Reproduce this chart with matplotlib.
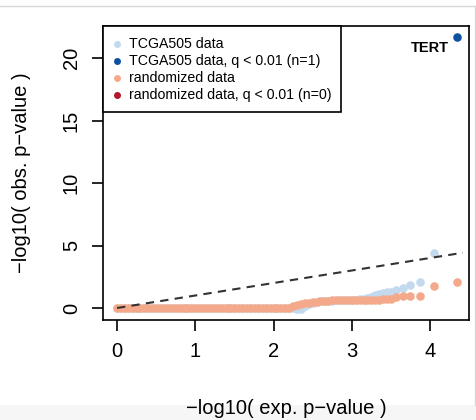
import matplotlib
matplotlib.use("Agg")
import matplotlib.pyplot as plt
from matplotlib.patches import Rectangle
from matplotlib.lines import Line2D

plt.rcParams['font.family'] = ['Liberation Sans', 'DejaVu Sans']

# ---- data ----
# expected -log10(p) positions of the dense part of the QQ curve
exp_dense = [0.00, 0.05, 0.10, 0.15, 0.20, 0.25, 0.30, 0.35, 0.40, 0.45,
             0.50, 0.55, 0.60, 0.65, 0.70, 0.75, 0.80, 0.85, 0.90, 0.95,
             1.00, 1.05, 1.10, 1.15, 1.20, 1.25, 1.30, 1.35, 1.40, 1.45,
             1.50, 1.55, 1.60, 1.65, 1.70, 1.75, 1.80, 1.85, 1.90, 1.95,
             2.00, 2.05, 2.10, 2.15, 2.20, 2.25, 2.30, 2.35, 2.40, 2.45,
             2.50, 2.55, 2.60, 2.65, 2.70, 2.75, 2.80, 2.85, 2.90, 2.95,
             3.00, 3.05, 3.10, 3.15, 3.20, 3.25, 3.30, 3.35, 3.40, 3.45,
             3.50]
# randomized data (observed -log10 p), dense part
rand_dense = [0.00, 0.00, 0.00, 0.00, 0.00, 0.00, 0.00, 0.00, 0.00, 0.00,
              0.00, 0.00, 0.00, 0.00, 0.00, 0.00, 0.00, 0.00, 0.00, 0.00,
              0.00, 0.00, 0.00, 0.00, 0.00, 0.00, 0.00, 0.00, 0.00, 0.00,
              0.00, 0.00, 0.00, 0.00, 0.00, 0.00, 0.00, 0.00, 0.00, 0.00,
              0.00, 0.00, 0.00, 0.00, 0.02, 0.15, 0.25, 0.33, 0.40, 0.42,
              0.45, 0.50, 0.55, 0.58, 0.60, 0.61, 0.62, 0.62, 0.63, 0.63,
              0.64, 0.64, 0.65, 0.65, 0.66, 0.66, 0.67, 0.68, 0.69, 0.70,
              0.72]
# TCGA505 data (observed -log10 p), dense part
tcga_dense = [0.00, 0.00, 0.00, 0.00, 0.00, 0.00, 0.00, 0.00, 0.00, 0.00,
              0.00, 0.00, 0.00, 0.00, 0.00, 0.00, 0.00, 0.00, 0.00, 0.00,
              0.00, 0.00, 0.00, 0.00, 0.00, 0.00, 0.00, 0.00, 0.00, 0.00,
              0.00, 0.00, 0.00, 0.00, 0.00, 0.00, 0.00, 0.00, 0.00, 0.00,
              0.00, 0.00, 0.00, 0.00, 0.00, -0.03, -0.06, -0.04, 0.20, 0.35,
              0.42, 0.48, 0.53, 0.56, 0.58, 0.60, 0.61, 0.62, 0.63, 0.64,
              0.66, 0.68, 0.70, 0.74, 0.80, 0.90, 1.02, 1.10, 1.20, 1.25,
              1.30]
# top-ranked points
exp_top = [3.57, 3.65, 3.75, 3.87, 4.05, 4.35]
rand_top = [0.85, 0.96, 0.96, 0.96, 1.78, 2.05]
tcga_top = [1.44, 1.62, 1.82, 2.05, 4.42]
exp_tcga_top = [3.57, 3.65, 3.75, 3.87, 4.05]
# significant hit
sig_exp = [4.35]
sig_obs = [21.7]
sig_gene = ["TERT"]

LIGHT_BLUE = "#c2d9ee"
DARK_BLUE = "#0d52a0"
ORANGE = "#f4aa8a"
DARK_RED = "#b2182b"

fig = plt.figure(figsize=(4.77, 4.20), dpi=100)
ax = fig.add_axes([103/477, 1-320/420, 366/477, 294/420])

s = 38
ax.scatter(exp_dense + exp_tcga_top, tcga_dense + tcga_top, s=s, c=LIGHT_BLUE,
           linewidths=0, zorder=2)
ax.scatter(sig_exp, sig_obs, s=s, c=DARK_BLUE, linewidths=0, zorder=2)
ax.scatter(exp_dense + exp_top, rand_dense + rand_top, s=s, c=ORANGE,
           linewidths=0, zorder=3)

ax.plot([0, 4.42], [0, 4.42], ls=(0, (4, 3)), color="#333333", lw=1.5, zorder=4)

for xg, yg, g in zip(sig_exp, sig_obs, sig_gene):
    ax.annotate(g, (xg, yg), xytext=(-6, -8), textcoords="offset points",
                ha="right", va="center", fontsize=10.5, fontweight="bold")

ax.set_xlim(-0.179, 4.498)
ax.set_ylim(-0.96, 22.56)
ax.set_xticks([0, 1, 2, 3, 4])
ax.set_yticks([0, 5, 10, 15, 20])
ax.tick_params(axis="both", length=8, width=1.2, labelsize=14.5, direction="out")
ax.tick_params(axis="x", pad=8)
ax.tick_params(axis="y", pad=8)
for lab in ax.get_yticklabels():
    lab.set_rotation(90)
    lab.set_va("center")
for sp in ax.spines.values():
    sp.set_linewidth(1.2)

ax.set_xlabel("\u2212log10( exp. p\u2212value )", fontsize=14.5)
ax.set_ylabel("\u2212log10( obs. p\u2212value )", fontsize=14.5)
ax.xaxis.set_label_coords(0.5, -(409-320)/294, transform=ax.transAxes)
ax.yaxis.set_label_coords(-(103-22)/366, 0.5, transform=ax.transAxes)
ax.xaxis.label.set_va("center")
ax.yaxis.label.set_va("center")

# legend box
ax.add_patch(Rectangle((0, (320-112)/294), (341-103)/366, (112-26)/294,
                       transform=ax.transAxes, facecolor="white",
                       edgecolor="black", lw=1.2, zorder=5, clip_on=False))
leg_labels = ["TCGA505 data", "TCGA505 data, q < 0.01 (n=1)",
              "randomized data", "randomized data, q < 0.01 (n=0)"]
leg_colors = [LIGHT_BLUE, DARK_BLUE, ORANGE, DARK_RED]
rows = [44, 61, 78, 95]
for lab, col, ry in zip(leg_labels, leg_colors, rows):
    yy = (320-ry)/294
    ax.add_line(Line2D([14/366], [yy], marker="o", ms=4, color=col, ls="none",
                       transform=ax.transAxes, zorder=6))
    ax.text(26/366, yy, lab, transform=ax.transAxes, va="center", ha="left",
            fontsize=10.2, zorder=6)

# screenshot frame details
fig.patches.append(Rectangle((0, 0), 1, 15/420, transform=fig.transFigure,
                             facecolor="#f6f6f6", edgecolor="none", zorder=-1))
fig.lines.append(Line2D([0, 475/477], [1-6/420, 1-6/420], transform=fig.transFigure,
                        color="#d8d8d8", lw=1))
fig.lines.append(Line2D([475/477, 475/477], [15/420, 1-6/420], transform=fig.transFigure,
                        color="#d8d8d8", lw=1))

fig.savefig("out.png", dpi=100)
